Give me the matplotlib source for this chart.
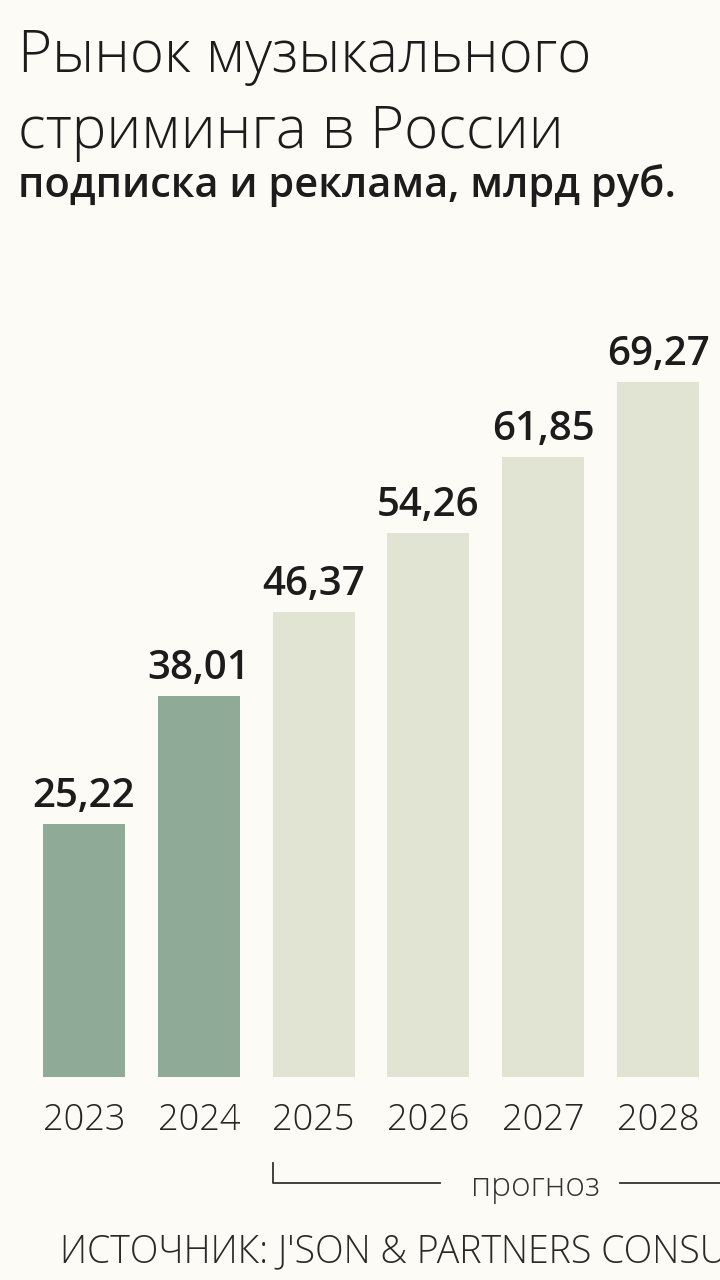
import numpy as np
import matplotlib.pyplot as plt
import matplotlib.transforms as mtransforms

years = ['2023', '2024', '2025', '2026', '2027', '2028']
values = [25.22, 38.01, 46.37, 54.26, 61.85, 69.27]
labels = ['25,22', '38,01', '46,37', '54,26', '61,85', '69,27']
is_forecast = [False, False, True, True, True, True]

bg = '#fcfbf6'
dark = '#8fab98'
light = '#e1e4d3'
ink = '#1c1c1c'

plt.rcParams['font.family'] = ['Open Sans', 'DejaVu Sans']

fig = plt.figure(figsize=(7.2, 12.8), dpi=100, facecolor=bg)

# title block
fig.text(0.025, 1 - 72 / 1280, 'Рынок музыкального', fontsize=42, fontweight='light',
         color=ink, va='baseline', ha='left')
fig.text(0.025, 1 - 148 / 1280, 'стриминга в России', fontsize=42, fontweight='light',
         color=ink, va='baseline', ha='left')
fig.text(0.025, 1 - 197 / 1280, 'подписка и реклама, млрд руб.', fontsize=30,
         fontweight='semibold', color=ink, va='baseline', ha='left')

# bar axes
ax = fig.add_axes([0, 203 / 1280, 1, 777 / 1280])
ax.set_facecolor(bg)
x = np.arange(len(years))
colors = [light if f else dark for f in is_forecast]
width = 0.714
bars = ax.bar(x, values, width=width, color=colors)
ax.set_xlim(-0.7317, 5.540)
ax.set_ylim(0, 77.46)

for b, lab in zip(bars, labels):
    ax.annotate(lab, (b.get_x() + b.get_width() / 2, b.get_height()),
                xytext=(0, 12), textcoords='offset points', ha='center', va='baseline',
                fontsize=29, fontweight='semibold', color=ink)

ax.set_xticks(x)
ax.set_xticklabels(years, fontsize=26, fontweight='light', color='#262626')
ax.tick_params(axis='x', length=0, pad=18)
ax.set_yticks([])
for s in ax.spines.values():
    s.set_visible(False)

# forecast bracket
tr = mtransforms.blended_transform_factory(ax.transData, fig.transFigure)
first = is_forecast.index(True)
x0 = first - width / 2
y_line = 1 - 1183 / 1280
ax.plot([x0, x0, 3.1], [1 - 1163 / 1280, y_line, y_line], transform=tr, color='#333333',
        lw=1.3, clip_on=False)
ax.plot([4.67, 6.0], [y_line, y_line], transform=tr, color='#333333', lw=1.3, clip_on=False)
ax.text(3.93, y_line - 4 / 1280, 'прогноз', transform=tr, ha='center', va='center',
        fontsize=24, fontweight='light', color='#333333')

fig.text(0.083, 1 - 1262 / 1280, "ИСТОЧНИК: J'SON & PARTNERS CONSULTING", fontsize=27,
         fontweight='light', color='#2a2a2a', va='baseline', ha='left')

fig.savefig('out.png', dpi=100, facecolor=bg)
